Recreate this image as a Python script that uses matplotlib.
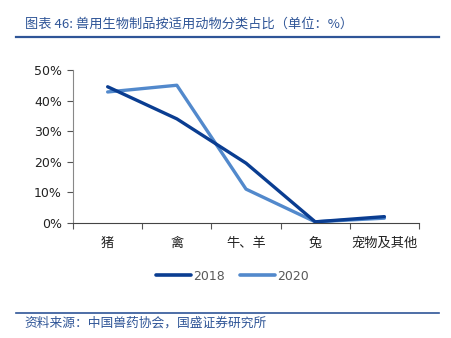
import matplotlib
matplotlib.use("Agg")
import matplotlib.pyplot as plt
from matplotlib.lines import Line2D
from matplotlib.ticker import PercentFormatter, MultipleLocator, FixedLocator, NullFormatter

plt.rcParams['font.family'] = ['Noto Sans CJK SC', 'DejaVu Sans']

categories = ["猪", "禽", "牛、羊", "兔", "宠物及其他"]
share_2018 = [44.5, 34.0, 19.5, 0.3, 2.0]
share_2020 = [42.8, 45.0, 11.0, 0.3, 1.5]
series_names = ["2018", "2020"]

title = "图表 46: 兽用生物制品按适用动物分类占比（单位：%）"
source = "资料来源：中国兽药协会，国盛证券研究所"

c2018 = "#0a3d91"
c2020 = "#5289cc"
accent = "#2f5597"

fig = plt.figure(figsize=(4.51, 3.38), dpi=100)
ax = fig.add_axes([0.162, 0.341, 0.767, 0.452])

x = list(range(len(categories)))
ax.plot(x, share_2018, color=c2018, lw=2.4, solid_capstyle="round", zorder=3)
ax.plot(x, share_2020, color=c2020, lw=2.4, solid_capstyle="round", zorder=2)

ax.set_xlim(-0.5, len(categories) - 0.5)
ax.set_ylim(0, 50)
ax.yaxis.set_major_locator(MultipleLocator(10))
ax.yaxis.set_major_formatter(PercentFormatter(decimals=0))

ax.set_xticks(x)
ax.set_xticklabels(categories)
ax.xaxis.set_minor_locator(FixedLocator([i - 0.5 for i in range(len(categories) + 1)]))
ax.xaxis.set_minor_formatter(NullFormatter())
ax.tick_params(axis="x", which="major", length=0, pad=10, labelsize=9.5, colors="#222222")
ax.tick_params(axis="x", which="minor", length=4, width=0.8, color="#555555", direction="out")
ax.tick_params(axis="y", length=4, width=0.8, color="#555555", labelsize=9,
               labelcolor="#222222", pad=4)
for lab in ax.get_yticklabels():
    lab.set_family("DejaVu Sans")
    lab.set_fontsize(9)

for side in ("top", "right"):
    ax.spines[side].set_visible(False)
ax.spines["left"].set_color("#888888")
ax.spines["bottom"].set_color("#444444")
ax.spines["left"].set_linewidth(0.8)
ax.spines["bottom"].set_linewidth(0.8)

handles = [Line2D([], [], color=c2018, lw=2.6, solid_capstyle="round"),
           Line2D([], [], color=c2020, lw=2.6, solid_capstyle="round")]
leg = fig.legend(handles, series_names, loc="center", bbox_to_anchor=(0.515, 0.183),
                 ncol=2, frameon=False, handlelength=2.8,
                 handletextpad=0.15, columnspacing=1.2,
                 prop={"family": "DejaVu Sans", "size": 9})
for t in leg.get_texts():
    t.set_color("#595959")

fig.text(0.055, 0.928, title, fontsize=9.5, color=accent, ha="left", va="center")
fig.add_artist(Line2D([0.035, 0.973], [0.89, 0.89], color=accent, lw=1.6,
                      transform=fig.transFigure))
fig.add_artist(Line2D([0.035, 0.973], [0.074, 0.074], color=accent, lw=1.2,
                      transform=fig.transFigure))
fig.text(0.055, 0.045, source, fontsize=9.2, color=accent, ha="left", va="center")

fig.savefig("out.png", dpi=100)
